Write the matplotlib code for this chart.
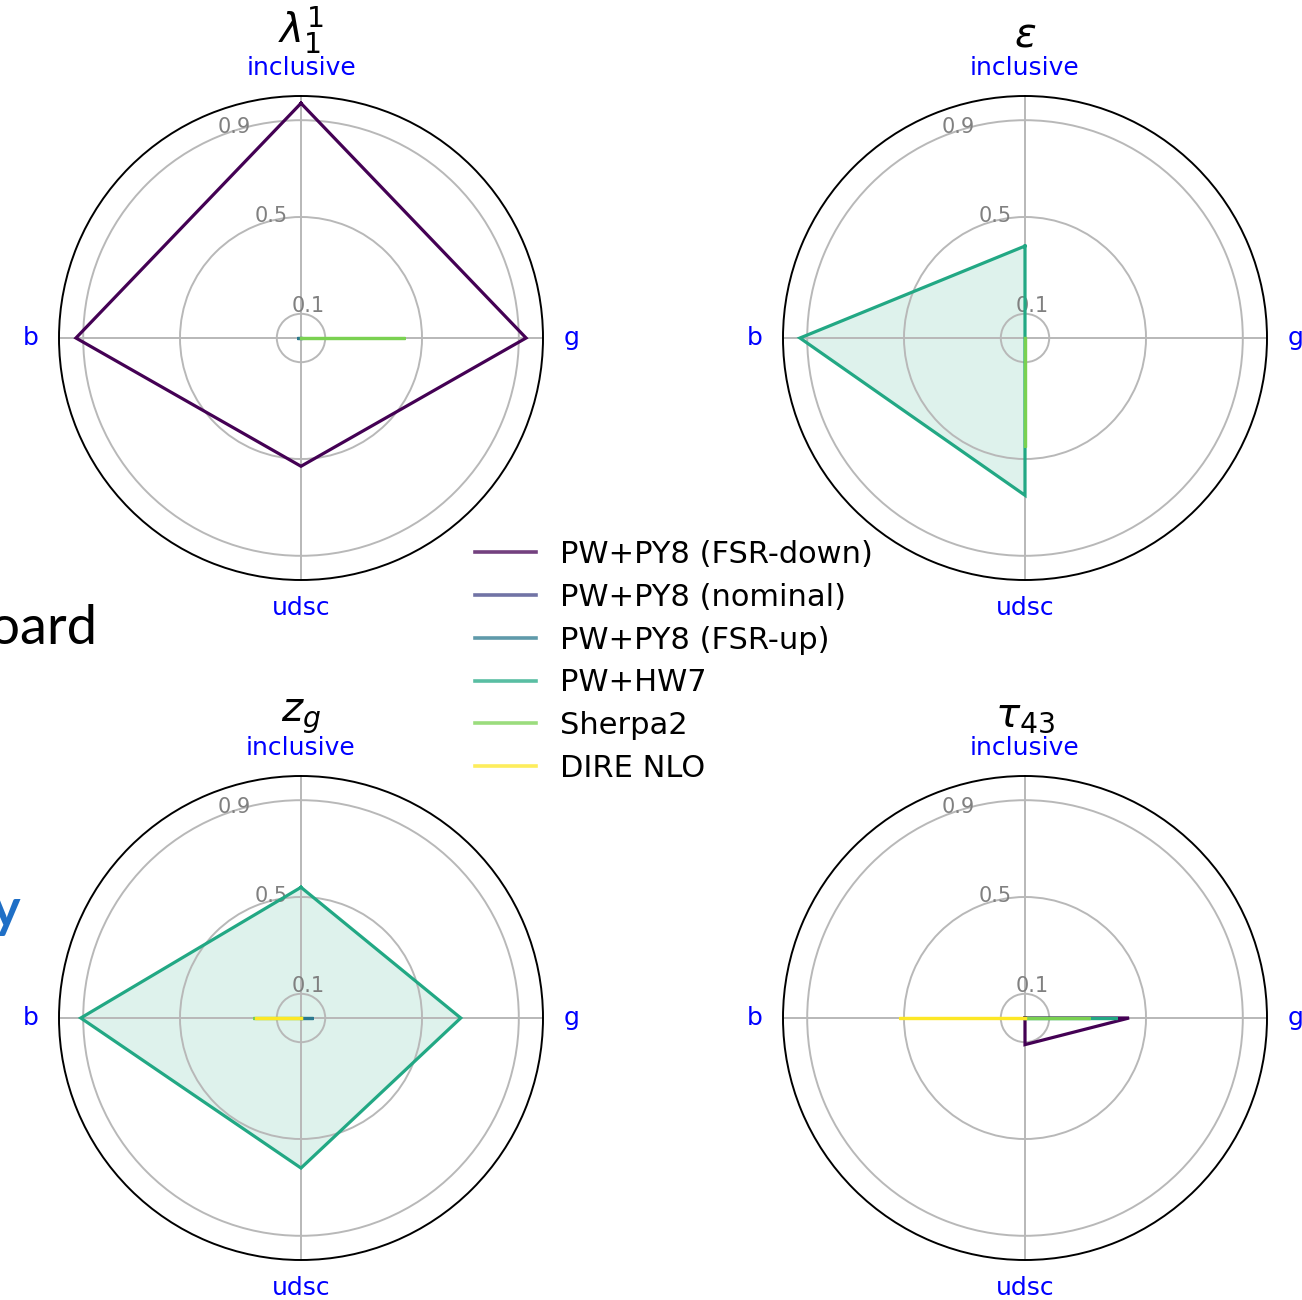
import numpy as np
import matplotlib
matplotlib.use("Agg")
import matplotlib.pyplot as plt
from matplotlib.lines import Line2D

# Axis categories, counter-clockwise starting at the top
categories = ["inclusive", "b", "udsc", "g"]

generators = [
    "PW+PY8 (FSR-down)",
    "PW+PY8 (nominal)",
    "PW+PY8 (FSR-up)",
    "PW+HW7",
    "Sherpa2",
    "DIRE NLO",
]

observables = [r"$\lambda_1^1$", r"$\epsilon$", r"$z_g$", r"$\tau_{43}$"]

# Values per generator, ordered as in `categories`
lambda_fsr_down = [0.97, 0.93, 0.53, 0.93]
lambda_nominal = [0.0, 0.0, 0.0, 0.0]
lambda_fsr_up = [0.0, 0.015, 0.0, 0.0]
lambda_hw7 = [0.0, 0.0, 0.0, 0.0]
lambda_sherpa = [0.0, 0.0, 0.0, 0.43]
lambda_dire = [0.0, 0.0, 0.0, 0.0]

eps_fsr_down = [0.0, 0.0, 0.0, 0.0]
eps_nominal = [0.0, 0.0, 0.0, 0.0]
eps_fsr_up = [0.0, 0.0, 0.0, 0.0]
eps_hw7 = [0.38, 0.93, 0.65, 0.0]
eps_sherpa = [0.0, 0.0, 0.45, 0.0]
eps_dire = [0.0, 0.0, 0.0, 0.0]

zg_fsr_down = [0.0, 0.0, 0.0, 0.0]
zg_nominal = [0.0, 0.0, 0.0, 0.0]
zg_fsr_up = [0.0, 0.0, 0.0, 0.05]
zg_hw7 = [0.54, 0.91, 0.62, 0.66]
zg_sherpa = [0.0, 0.20, 0.0, 0.0]
zg_dire = [0.0, 0.19, 0.0, 0.0]

tau_fsr_down = [0.0, 0.0, 0.11, 0.43]
tau_nominal = [0.0, 0.0, 0.0, 0.0]
tau_fsr_up = [0.0, 0.0, 0.0, 0.0]
tau_hw7 = [0.0, 0.0, 0.0, 0.38]
tau_sherpa = [0.0, 0.0, 0.0, 0.27]
tau_dire = [0.0, 0.52, 0.0, 0.0]

radial_ticks = [0.1, 0.5, 0.9]
radial_tick_labels = ["0.1", "0.5", "0.9"]

panels = [
    [lambda_fsr_down, lambda_nominal, lambda_fsr_up, lambda_hw7, lambda_sherpa, lambda_dire],
    [eps_fsr_down, eps_nominal, eps_fsr_up, eps_hw7, eps_sherpa, eps_dire],
    [zg_fsr_down, zg_nominal, zg_fsr_up, zg_hw7, zg_sherpa, zg_dire],
    [tau_fsr_down, tau_nominal, tau_fsr_up, tau_hw7, tau_sherpa, tau_dire],
]

colors = plt.cm.viridis(np.linspace(0, 1, len(generators)))
filled = "PW+HW7"

W, H = 1302, 1300
fig = plt.figure(figsize=(W / 100, H / 100), dpi=100)

# Panel centres (pixels) and radius
centres = [(301, 338), (1025, 338), (301, 1018), (1025, 1018)]
R = 242

angles = np.linspace(0, 2 * np.pi, len(categories), endpoint=False)
angles_closed = np.concatenate([angles, angles[:1]])

for (cx, cy), title, series in zip(centres, observables, panels):
    ax = fig.add_axes([(cx - R) / W, 1 - (cy + R) / H, 2 * R / W, 2 * R / H],
                      projection="polar")
    ax.set_theta_offset(np.pi / 2)
    ax.set_xticks(angles)
    ax.set_xticklabels(categories, color="blue", fontsize=18)
    ax.tick_params(axis="x", pad=10)
    ax.set_rlabel_position(22.5)
    ax.set_yticks(radial_ticks)
    ax.set_yticklabels(radial_tick_labels, color="grey", fontsize=15)
    ax.set_ylim(0, 1.0)
    ax.grid(color="#b8b8b8", linewidth=1.4)
    ax.spines["polar"].set_linewidth(1.4)
    for name, vals, col in zip(generators, series, colors):
        v = np.concatenate([vals, vals[:1]])
        ax.plot(angles_closed, v, color=col, linewidth=2.3, solid_joinstyle="miter")
        if name == filled:
            ax.fill(angles_closed, v, color=col, alpha=0.15, linewidth=0)
    ax.set_title(title, fontsize=29, pad=1)

handles = [Line2D([], [], color=c, linewidth=2.6, alpha=0.75) for c in colors]
fig.legend(handles, generators, loc="center", bbox_to_anchor=(674 / W, 1 - 661.5 / H),
           frameon=False, fontsize=22, handlelength=2.0, handletextpad=0.8,
           labelspacing=0.45)

# Slide text running in from the left
fig.text(97 / W, 1 - 628 / H, "board", fontsize=39, family="Lato",
         ha="right", va="center", color="black")
fig.text(20 / W, 1 - 912 / H, "y", fontsize=39, family="Lato", fontweight="bold",
         ha="right", va="center", color="#1f6fc6")

fig.savefig("out.png", dpi=100)
